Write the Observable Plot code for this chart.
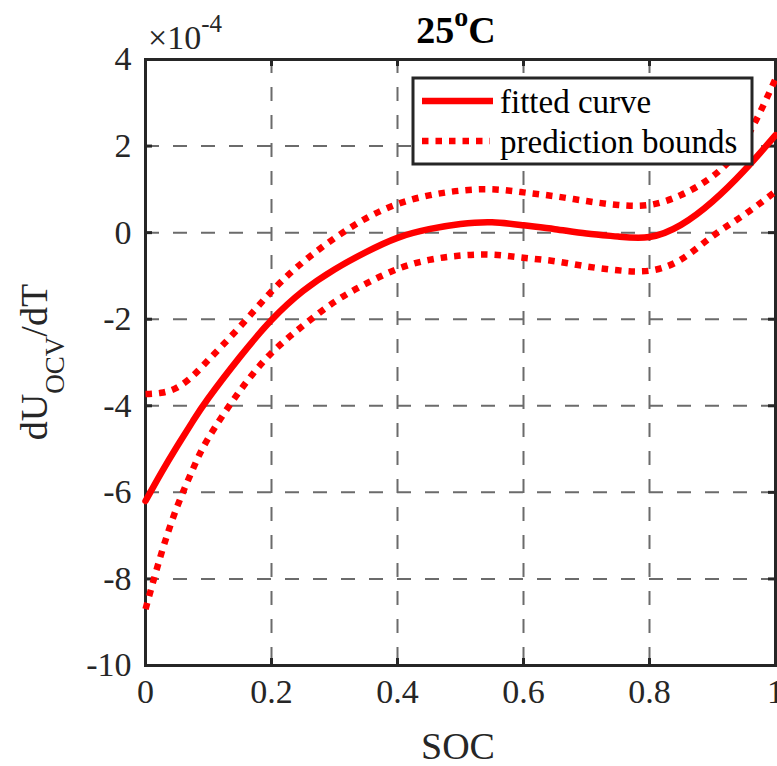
<!DOCTYPE html>
<html>
<head>
<meta charset="utf-8">
<script src="https://cdn.jsdelivr.net/npm/d3@7"></script>
<script src="https://cdn.jsdelivr.net/npm/@observablehq/plot@0.6"></script>
<style>
  html, body { margin: 0; padding: 0; background: #fff; }
  #chart { width: 777px; height: 766px; }
  svg { display: block; }
</style>
</head>
<body>
<div id="chart"></div>
<script>
// ---- data (values in units of 1e-4) ----
const soc = [0, 0.025, 0.05, 0.075, 0.1, 0.15, 0.2, 0.25, 0.3, 0.35, 0.4, 0.45, 0.5, 0.55, 0.6, 0.65, 0.7, 0.75, 0.8, 0.85, 0.9, 0.95, 1];
const fitted = [-6.2, -5.55, -4.94, -4.36, -3.82, -2.87, -2.02, -1.35, -0.85, -0.45, -0.12, 0.08, 0.2, 0.24, 0.17, 0.08, -0.02, -0.09, -0.1, 0.18, 0.72, 1.43, 2.25];
const upper = [-3.73, -3.7, -3.58, -3.31, -2.94, -2.17, -1.36, -0.68, -0.13, 0.33, 0.66, 0.86, 0.97, 1.0, 0.93, 0.84, 0.73, 0.64, 0.64, 0.87, 1.3, 2.1, 3.55];
const lower = [-8.7, -7.42, -6.34, -5.47, -4.74, -3.65, -2.78, -2.15, -1.6, -1.18, -0.84, -0.63, -0.53, -0.51, -0.58, -0.66, -0.78, -0.87, -0.88, -0.62, -0.08, 0.41, 0.95];

const xTicks = [0, 0.2, 0.4, 0.6, 0.8, 1];
const xTickLabels = ["0", "0.2", "0.4", "0.6", "0.8", "1"];
const yTicks = [4, 2, 0, -2, -4, -6, -8, -10];
const yTickLabels = ["4", "2", "0", "-2", "-4", "-6", "-8", "-10"];
const xGrid = [0.2, 0.4, 0.6, 0.8];
const yGrid = [2, 0, -2, -4, -6, -8];

const titleMain = "25", titleSup = "o", titleEnd = "C";
const xLabel = "SOC";
const yLabelParts = ["dU", "OCV", "/dT"];
const exponentBase = "\u00d710", exponentSup = "-4";
const legendLabels = ["fitted curve", "prediction bounds"];

// ---- table built from arrays ----
const table = soc.map((s, i) => ({soc: s, fit: fitted[i], up: upper[i], lo: lower[i]}));

const RED = "#ff0000";
const AX = "#262626";
const GRID = "#6b6b6b";
const FONT = "'Liberation Serif', 'Times New Roman', serif";

const W = 777, H = 766;
const mL = 145, mR = 2, mT = 59, mB = 101;
const fw = W - mL - mR, fh = H - mT - mB;

const plot = Plot.plot({
  width: W, height: H,
  marginLeft: mL, marginRight: mR, marginTop: mT, marginBottom: mB,
  x: {domain: [0, 1], axis: null},
  y: {domain: [-10, 4], axis: null},
  style: {fontFamily: FONT, background: "#fff", overflow: "visible"},
  marks: [
    Plot.ruleX(xGrid, {x: d => d, stroke: GRID, strokeWidth: 2, strokeDasharray: "14,14"}),
    Plot.ruleY(yGrid, {y: d => d, stroke: GRID, strokeWidth: 2, strokeDasharray: "14,14"}),
    Plot.frame({stroke: AX, strokeWidth: 3}),
    // inward ticks
    Plot.ruleX(xTicks, {x: d => d, insetTop: fh - 7, stroke: AX, strokeWidth: 3}),
    Plot.ruleX(xTicks, {x: d => d, insetBottom: fh - 7, stroke: AX, strokeWidth: 3}),
    Plot.ruleY(yTicks, {y: d => d, insetRight: fw - 7, stroke: AX, strokeWidth: 3}),
    Plot.ruleY(yTicks, {y: d => d, insetLeft: fw - 7, stroke: AX, strokeWidth: 3}),
    // tick labels
    Plot.text(xTicks, {x: d => d, frameAnchor: "bottom", dy: 37, text: (d, i) => xTickLabels[i], fontSize: 34, fill: AX}),
    Plot.text(yTicks, {y: d => d, frameAnchor: "left", dx: -14, textAnchor: "end", text: (d, i) => yTickLabels[i], fontSize: 34, fill: AX}),
    // curves
    Plot.line(table, {x: "soc", y: "up", stroke: RED, strokeWidth: 6.5, strokeDasharray: "6.5,7", strokeLinecap: "butt", curve: "natural"}),
    Plot.line(table, {x: "soc", y: "lo", stroke: RED, strokeWidth: 6.5, strokeDasharray: "6.5,7", strokeLinecap: "butt", curve: "natural"}),
    Plot.line(table, {x: "soc", y: "fit", stroke: RED, strokeWidth: 6.5, curve: "natural"})
  ]
});

document.getElementById("chart").appendChild(plot);

const svg = d3.select(plot);
const sx = plot.scale("x"), sy = plot.scale("y");
const cx = (sx.apply(0) + sx.apply(1)) / 2;
const cy = (sy.apply(4) + sy.apply(-10)) / 2;

// title
const t = svg.append("text")
  .attr("x", cx - 4).attr("y", 43)
  .attr("text-anchor", "middle")
  .attr("font-family", FONT).attr("font-weight", "bold").attr("font-size", 38).attr("fill", "#000");
t.append("tspan").text(titleMain);
t.append("tspan").attr("font-size", 28).attr("dy", -17).text(titleSup);
t.append("tspan").attr("dy", 17).text(titleEnd);

// exponent
const e = svg.append("text")
  .attr("x", sx.apply(0) + 3).attr("y", 49)
  .attr("text-anchor", "start")
  .attr("font-family", FONT).attr("font-size", 34).attr("fill", AX);
e.append("tspan").text(exponentBase);
e.append("tspan").attr("font-size", 25).attr("dy", -17).text(exponentSup);

// x label
svg.append("text")
  .attr("x", cx - 2).attr("y", 759)
  .attr("text-anchor", "middle")
  .attr("font-family", FONT).attr("font-size", 38).attr("fill", AX)
  .text(xLabel);

// y label
const yl = svg.append("text")
  .attr("transform", `translate(47,${cy}) rotate(-90)`)
  .attr("text-anchor", "middle")
  .attr("font-family", FONT).attr("font-size", 38).attr("fill", AX);
yl.append("tspan").text(yLabelParts[0]);
yl.append("tspan").attr("font-size", 27).attr("dy", 17).text(yLabelParts[1]);
yl.append("tspan").attr("dy", -17).text(yLabelParts[2]);

// legend
const lg = svg.append("g").attr("text-anchor", "start");
lg.append("rect")
  .attr("x", 413).attr("y", 78).attr("width", 339).attr("height", 86)
  .attr("fill", "#fff").attr("stroke", AX).attr("stroke-width", 3);
lg.append("line").attr("x1", 422).attr("x2", 493).attr("y1", 101).attr("y2", 101)
  .attr("stroke", RED).attr("stroke-width", 6.5);
lg.append("line").attr("x1", 422).attr("x2", 490).attr("y1", 141).attr("y2", 141)
  .attr("stroke", RED).attr("stroke-width", 6.5).attr("stroke-dasharray", "6.5,7");
lg.append("text").attr("x", 500).attr("y", 113).attr("text-anchor", "start")
  .attr("font-family", FONT).attr("font-size", 33).attr("fill", "#000").text(legendLabels[0]);
lg.append("text").attr("x", 500).attr("y", 153).attr("text-anchor", "start")
  .attr("font-family", FONT).attr("font-size", 33).attr("fill", "#000").text(legendLabels[1]);
</script>
</body>
</html>
